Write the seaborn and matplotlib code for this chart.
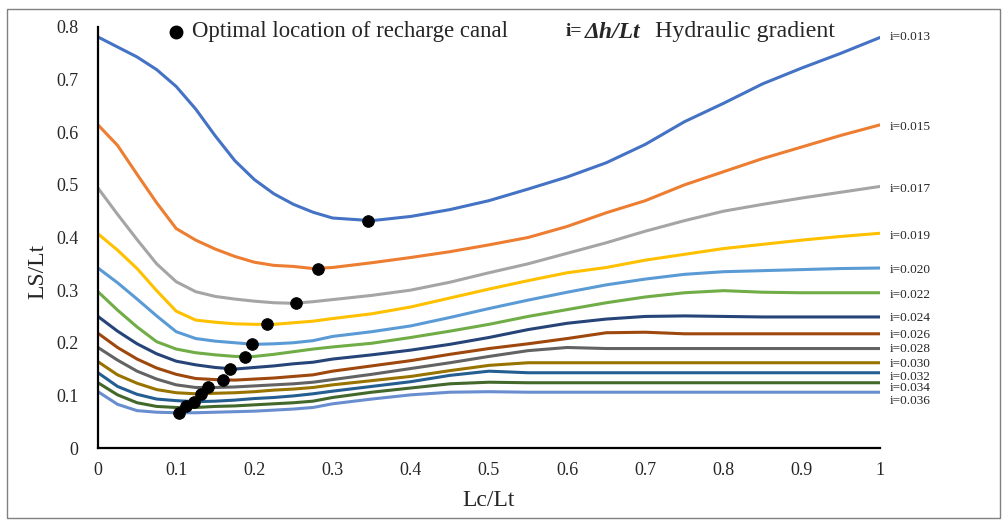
import pandas as pd
import matplotlib
matplotlib.use("Agg")  # sin GUI, se guarda a PNG

import matplotlib.pyplot as plt
import seaborn as sns
from matplotlib.patches import Rectangle

# valores (Lc/Lt en el eje x)
lc_lt = [0, 0.025, 0.05, 0.075, 0.1, 0.125, 0.15, 0.175, 0.2, 0.225, 0.25, 0.275, 0.3,
         0.35, 0.4, 0.45, 0.5, 0.55, 0.6, 0.65, 0.7, 0.75, 0.8, 0.85, 0.9, 0.95, 1.0]

ls_0013 = [0.781, 0.762, 0.743, 0.719, 0.687, 0.644, 0.593, 0.546, 0.510, 0.483, 0.463, 0.448, 0.437,
           0.432, 0.440, 0.453, 0.470, 0.492, 0.515, 0.542, 0.577, 0.620, 0.655, 0.692, 0.722, 0.750, 0.780]
ls_0015 = [0.614, 0.575, 0.520, 0.466, 0.417, 0.395, 0.378, 0.364, 0.353, 0.347, 0.345, 0.341, 0.343,
           0.352, 0.362, 0.373, 0.386, 0.400, 0.421, 0.447, 0.470, 0.500, 0.525, 0.550, 0.572, 0.594, 0.614]
ls_0017 = [0.494, 0.444, 0.396, 0.350, 0.316, 0.297, 0.288, 0.283, 0.279, 0.276, 0.275, 0.278, 0.282,
           0.290, 0.300, 0.315, 0.333, 0.350, 0.370, 0.390, 0.412, 0.432, 0.450, 0.463, 0.475, 0.486, 0.497]
ls_0019 = [0.407, 0.376, 0.341, 0.299, 0.260, 0.243, 0.239, 0.236, 0.235, 0.235, 0.238, 0.241, 0.246,
           0.255, 0.268, 0.285, 0.302, 0.318, 0.333, 0.343, 0.357, 0.368, 0.379, 0.387, 0.395, 0.402, 0.408]
ls_0020 = [0.342, 0.314, 0.283, 0.251, 0.221, 0.208, 0.203, 0.200, 0.197, 0.198, 0.200, 0.204, 0.212,
           0.221, 0.232, 0.248, 0.265, 0.281, 0.296, 0.310, 0.321, 0.330, 0.335, 0.337, 0.339, 0.341, 0.342]
ls_0022 = [0.297, 0.262, 0.230, 0.202, 0.188, 0.181, 0.177, 0.174, 0.174, 0.178, 0.183, 0.188, 0.192,
           0.199, 0.210, 0.222, 0.235, 0.250, 0.263, 0.276, 0.287, 0.295, 0.299, 0.296, 0.295, 0.295, 0.295]
ls_0024 = [0.250, 0.222, 0.198, 0.179, 0.165, 0.158, 0.153, 0.150, 0.153, 0.156, 0.160, 0.163, 0.169,
           0.177, 0.186, 0.197, 0.210, 0.225, 0.237, 0.245, 0.250, 0.251, 0.250, 0.249, 0.249, 0.249, 0.249]
ls_0026 = [0.218, 0.191, 0.169, 0.152, 0.140, 0.132, 0.130, 0.129, 0.131, 0.133, 0.136, 0.139, 0.146,
           0.156, 0.166, 0.178, 0.189, 0.198, 0.208, 0.219, 0.220, 0.217, 0.217, 0.217, 0.217, 0.217, 0.217]
ls_0028 = [0.191, 0.167, 0.146, 0.131, 0.120, 0.115, 0.115, 0.116, 0.118, 0.120, 0.122, 0.125, 0.130,
           0.140, 0.151, 0.162, 0.174, 0.185, 0.191, 0.189, 0.189, 0.189, 0.189, 0.189, 0.189, 0.189, 0.189]
ls_0030 = [0.164, 0.139, 0.123, 0.111, 0.105, 0.103, 0.104, 0.105, 0.107, 0.110, 0.112, 0.115, 0.120,
           0.128, 0.136, 0.147, 0.157, 0.162, 0.162, 0.162, 0.162, 0.162, 0.162, 0.162, 0.162, 0.162, 0.162]
ls_0032 = [0.143, 0.117, 0.102, 0.093, 0.090, 0.088, 0.089, 0.091, 0.094, 0.096, 0.099, 0.103, 0.108,
           0.117, 0.126, 0.138, 0.146, 0.143, 0.143, 0.143, 0.143, 0.143, 0.143, 0.143, 0.143, 0.143, 0.143]
ls_0034 = [0.124, 0.101, 0.086, 0.079, 0.077, 0.077, 0.079, 0.080, 0.082, 0.084, 0.086, 0.089, 0.096,
           0.106, 0.114, 0.122, 0.125, 0.124, 0.124, 0.124, 0.124, 0.124, 0.124, 0.124, 0.124, 0.124, 0.124]
ls_0036 = [0.107, 0.083, 0.071, 0.068, 0.067, 0.067, 0.068, 0.069, 0.070, 0.072, 0.074, 0.077, 0.084,
           0.093, 0.101, 0.106, 0.107, 0.106, 0.106, 0.106, 0.106, 0.106, 0.106, 0.106, 0.106, 0.106, 0.106]

gradients = ["0.013", "0.015", "0.017", "0.019", "0.020", "0.022", "0.024",
             "0.026", "0.028", "0.030", "0.032", "0.034", "0.036"]

# ubicacion optima del canal de recarga
opt_x = [0.345, 0.281, 0.253, 0.216, 0.197, 0.188, 0.169, 0.160, 0.141, 0.132, 0.123, 0.113, 0.104]
opt_y = [0.432, 0.340, 0.275, 0.235, 0.197, 0.172, 0.150, 0.129, 0.115, 0.103, 0.088, 0.079, 0.067]

# posicion vertical de las etiquetas de la derecha
label_y = [0.781, 0.610, 0.492, 0.403, 0.338, 0.291, 0.247, 0.215, 0.188, 0.160, 0.135, 0.114, 0.089]

colors = ["#4472C4", "#ED7D31", "#A5A5A5", "#FFC000", "#5B9BD5", "#70AD47", "#264478",
          "#9E480E", "#636363", "#997300", "#255E91", "#43682B", "#698ED0"]

curves = [ls_0013, ls_0015, ls_0017, ls_0019, ls_0020, ls_0022, ls_0024,
          ls_0026, ls_0028, ls_0030, ls_0032, ls_0034, ls_0036]

rows = []
for g, ys in zip(gradients, curves):
    for x, y in zip(lc_lt, ys):
        rows.append((g, x, y))
df = pd.DataFrame(rows, columns=["i", "Lc/Lt", "LS/Lt"])

sns.set_style("white")
plt.rcParams["font.family"] = ["Liberation Serif", "DejaVu Serif"]

fig = plt.figure(figsize=(10.06, 5.23), dpi=100)
ax = fig.add_axes([0.0974, 0.1434, 0.7773, 0.805])

sns.lineplot(data=df, x="Lc/Lt", y="LS/Lt", hue="i", palette=colors,
             linewidth=2.2, estimator=None, sort=False, legend=False, ax=ax)
sns.scatterplot(x=opt_x, y=opt_y, color="black", s=70, edgecolor="black",
                zorder=5, ax=ax)

ax.set_xlim(0, 1)
ax.set_ylim(0, 0.8)
xt = [i / 10 for i in range(11)]
yt = [i / 10 for i in range(9)]
ax.set_xticks(xt)
ax.set_xticklabels(["0"] + [f"{v:.1f}" for v in xt[1:-1]] + ["1"])
ax.set_yticks(yt)
ax.set_yticklabels(["0"] + [f"{v:.1f}" for v in yt[1:]])
ax.tick_params(axis="both", length=0, labelsize=13)
ax.tick_params(axis="y", pad=14)
ax.tick_params(axis="x", pad=10)

for s in ["top", "right"]:
    ax.spines[s].set_visible(False)
for s in ["left", "bottom"]:
    ax.spines[s].set_color("black")
    ax.spines[s].set_linewidth(1.6)

ax.set_xlabel("Lc/Lt", fontsize=17, labelpad=8)
ax.set_ylabel("LS/Lt", fontsize=17)
ax.yaxis.set_label_coords(-0.064, 0.42)

# etiquetas de gradiente a la derecha
for g, yy in zip(gradients, label_y):
    ax.text(1.013, yy, f"i={g}", fontsize=9.5, va="center", ha="left", clip_on=False)

# leyenda de arriba
ytop = 1 - 32 / 523
fig.add_artist(plt.Line2D([176 / 1006], [ytop], marker="o", color="black",
                          markersize=9, transform=fig.transFigure))
fig.text(192 / 1006, ytop, "Optimal location of recharge canal",
         fontsize=16.4, va="center", ha="left")
fig.text(566 / 1006, ytop, "i=", fontsize=14, fontweight="bold",
         va="center", ha="left")
fig.text(585 / 1006, ytop, "Δh/Lt", fontsize=17, fontweight="bold",
         fontstyle="italic", va="center", ha="left")
fig.text(655 / 1006, ytop, "Hydraulic gradient", fontsize=17.2,
         va="center", ha="left")

# marco exterior
fig.add_artist(Rectangle((7 / 1006, 5 / 523), 993 / 1006, 509 / 523,
                         transform=fig.transFigure, fill=False,
                         edgecolor="#808080", linewidth=1))

fig.savefig("out.png", dpi=100)
